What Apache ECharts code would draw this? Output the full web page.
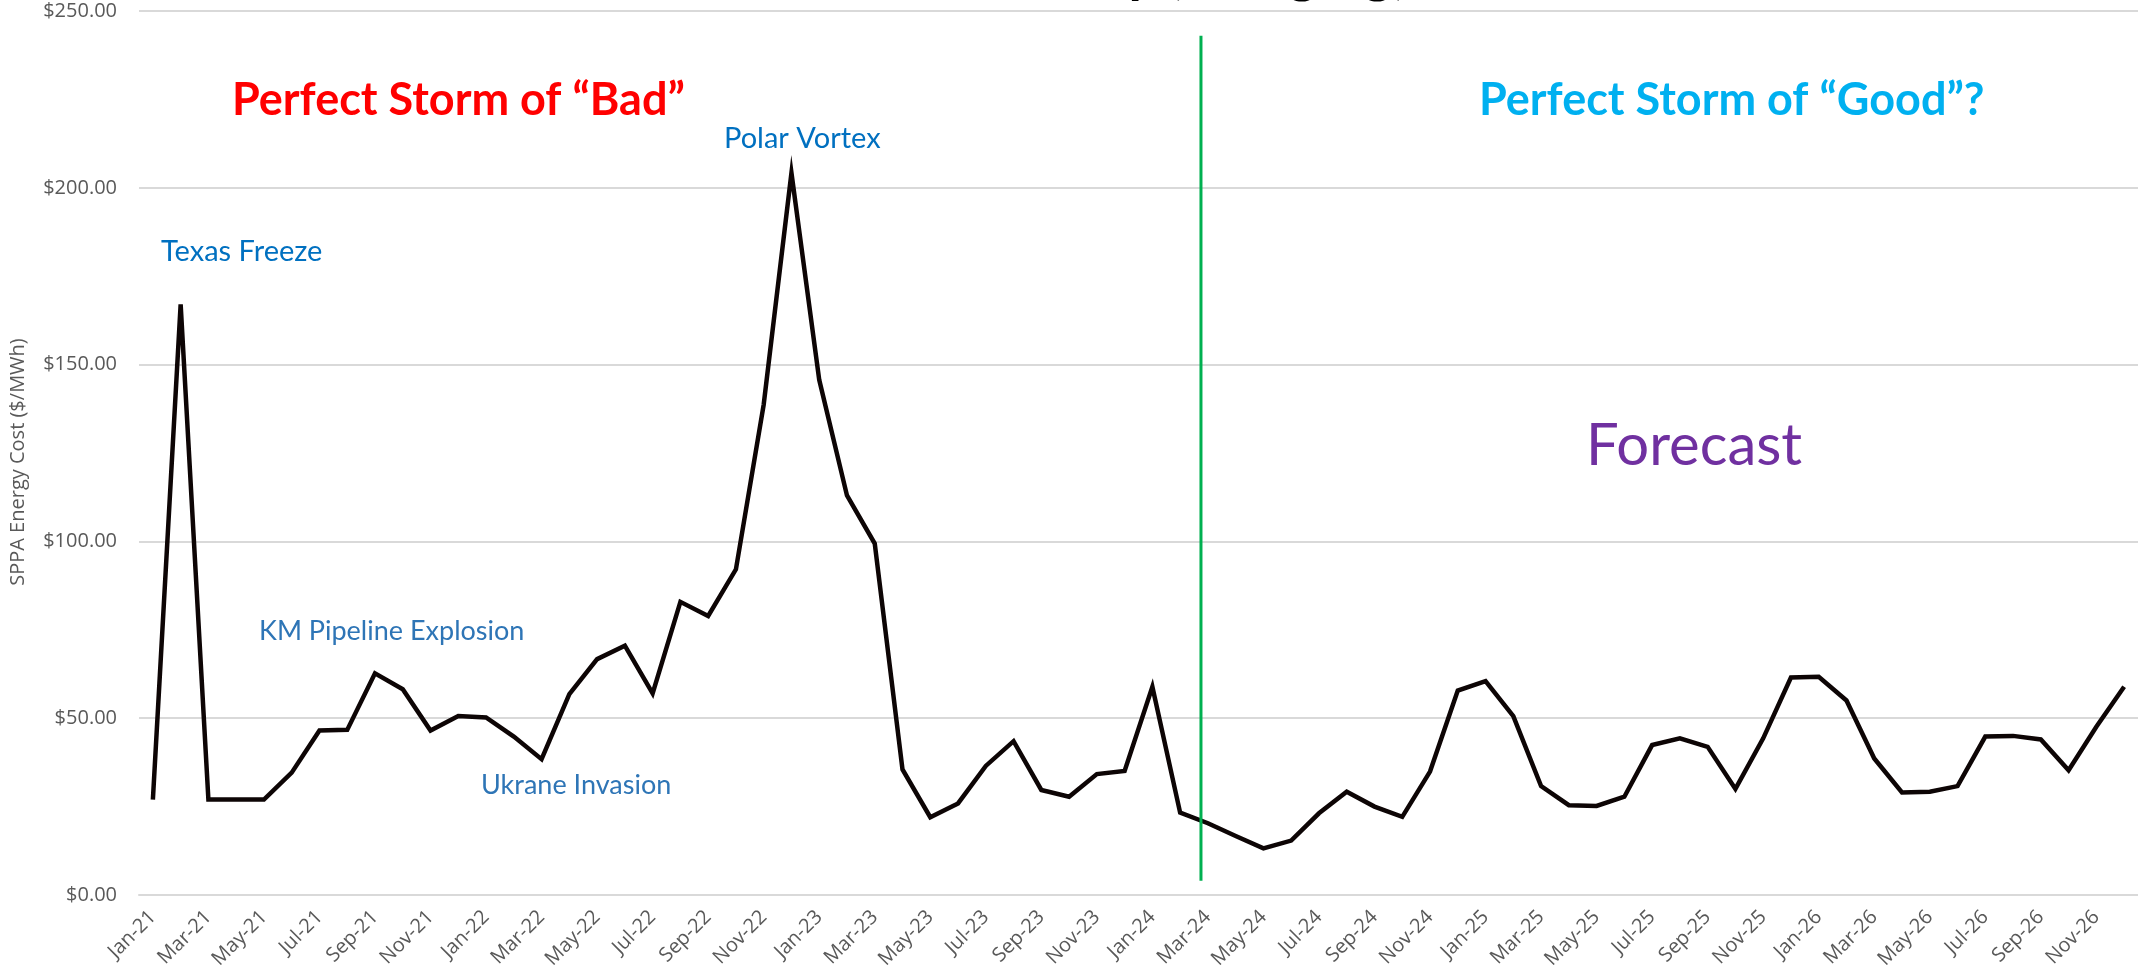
<!DOCTYPE html>
<html lang="en">
<head>
    <meta charset="UTF-8">
    <title>SPPA Energy Cost</title>
    <script src="https://cdn.jsdelivr.net/npm/echarts@6/dist/echarts.min.js"></script>
    <style>
        html, body { margin: 0; padding: 0; background: #fff; }
        #container { width: 2138px; height: 979px; }
    </style>
</head>
<body>
<div id="container"></div>
<script>
    // months and years used for the category labels (Jan-21 ... Dec-26)
    var months = ['Jan','Feb','Mar','Apr','May','Jun','Jul','Aug','Sep','Oct','Nov','Dec'];
    var years = ['21','22','23','24','25','26'];

    // monthly SPPA energy cost, $/MWh
    var cost2021 = [27.0, 167.0, 27.0, 27.0, 27.0, 34.6, 46.5, 46.7, 62.7, 58.2, 46.5, 50.6];
    var cost2022 = [50.2, 44.8, 38.4, 56.8, 66.7, 70.5, 57.0, 82.9, 78.9, 92.1, 138.7, 204.2];
    var cost2023 = [145.7, 113.0, 99.4, 35.5, 22.0, 25.9, 36.5, 43.5, 29.7, 27.8, 34.2, 35.1];
    var cost2024 = [58.9, 23.3, 20.3, 16.7, 13.2, 15.4, 23.1, 29.2, 25.0, 22.1, 34.9, 57.8];
    var cost2025 = [60.5, 50.6, 30.8, 25.4, 25.2, 27.8, 42.4, 44.3, 41.9, 30.0, 44.3, 61.5];
    var cost2026 = [61.7, 55.0, 38.6, 29.0, 29.2, 30.8, 44.8, 45.0, 44.0, 35.3, 47.6, 58.9];

    // the green actual/forecast divider: x in months from Jan-21, y span in $
    var dividerX = 38.25;
    var dividerY = [4, 243];

    var yTicks = [0, 50, 100, 150, 200, 250];

    var categories = [];
    years.forEach(function (y) {
        months.forEach(function (m) { categories.push(m + '-' + y); });
    });
    var costs = [].concat(cost2021, cost2022, cost2023, cost2024, cost2025, cost2026);

    var myChart = echarts.init(document.getElementById('container'));

    var axisFont = '"Open Sans", "Noto Sans", sans-serif';
    var noteFont = 'Lato, "Open Sans", sans-serif';

    var option = {
        animation: false,
        grid: { left: 139, right: 0, top: 11, bottom: 84 },
        xAxis: [{
            type: 'category',
            data: categories,
            boundaryGap: true,
            axisLine: { lineStyle: { color: '#d9d9d9', width: 2 } },
            axisTick: { interval: 1, length: 7, lineStyle: { color: '#d9d9d9', width: 2 } },
            axisLabel: {
                interval: 1,
                rotate: 45,
                margin: 19,
                color: '#595959',
                fontFamily: axisFont,
                fontSize: 20
            },
            splitLine: { show: false }
        }, {
            type: 'value',
            min: 0,
            max: categories.length,
            show: false
        }],
        yAxis: {
            type: 'value',
            min: yTicks[0],
            max: yTicks[yTicks.length - 1],
            interval: 50,
            axisLine: { show: false },
            axisTick: { show: false },
            axisLabel: {
                margin: 22,
                color: '#595959',
                fontFamily: axisFont,
                fontSize: 20,
                formatter: function (v) { return '$' + v.toFixed(2); }
            },
            splitLine: { lineStyle: { color: '#d9d9d9', width: 2 } }
        },
        series: [{
            type: 'line',
            name: 'Cost',
            data: costs,
            xAxisIndex: 0,
            symbol: 'none',
            lineStyle: { color: '#0d0505', width: 4.5, join: 'miter' },
            z: 3
        }, {
            type: 'line',
            name: 'Divider',
            xAxisIndex: 1,
            data: [[dividerX, dividerY[0]], [dividerX, dividerY[1]]],
            symbol: 'none',
            lineStyle: { color: '#00b050', width: 3 },
            z: 4
        }],
        graphic: [
            // chart title, mostly cut off at the top edge as in the source
            { type: 'text', x: 1408, y: -54, style: { text: 'SPPA Cost History (Hedging)', font: 'bold 56px ' + noteFont, fill: '#000', align: 'right', verticalAlign: 'top' } },
            { type: 'text', x: 18, y: 462, rotation: Math.PI / 2, style: { text: 'SPPA Energy Cost ($/MWh)', font: '20px ' + axisFont, fill: '#595959', align: 'center', verticalAlign: 'middle' } },
            { type: 'text', x: 232, y: 100, style: { text: 'Perfect Storm of \u201cBad\u201d', font: 'bold 45px ' + noteFont, fill: '#ff0000', verticalAlign: 'middle' } },
            { type: 'text', x: 1479, y: 100, style: { text: 'Perfect Storm of \u201cGood\u201d?', font: 'bold 45px ' + noteFont, fill: '#00b0f0', verticalAlign: 'middle' } },
            { type: 'text', x: 724, y: 139, style: { text: 'Polar Vortex', font: '29px ' + noteFont, fill: '#0070c0', verticalAlign: 'middle' } },
            { type: 'text', x: 161, y: 252, style: { text: 'Texas Freeze', font: '29px ' + noteFont, fill: '#0070c0', verticalAlign: 'middle' } },
            { type: 'text', x: 259, y: 631, style: { text: 'KM Pipeline Explosion', font: '27px ' + noteFont, fill: '#2e75b6', verticalAlign: 'middle' } },
            { type: 'text', x: 481, y: 785, style: { text: 'Ukrane Invasion', font: '27px ' + noteFont, fill: '#2e75b6', verticalAlign: 'middle' } },
            { type: 'text', x: 1586, y: 446, style: { text: 'Forecast', font: '58px ' + noteFont, fill: '#7030a0', verticalAlign: 'middle' } }
        ]
    };

    myChart.setOption(option);
</script>
</body>
</html>
